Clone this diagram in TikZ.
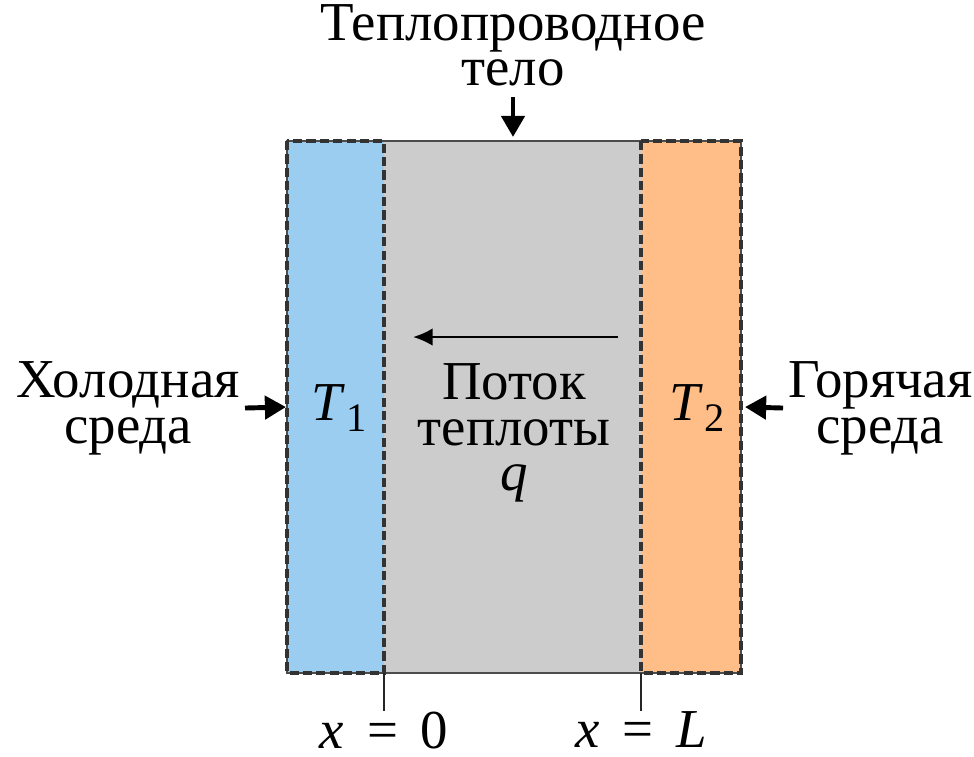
\documentclass[tikz,border=0pt]{standalone}
\usepackage{fontspec}
\setmainfont{Liberation Serif}[Script=Cyrillic]
\usepackage{xcolor}
\usepackage{tikz}
\usetikzlibrary{positioning}
\usetikzlibrary{calc,arrows.meta}

\definecolor{coldblue}{RGB}{155,205,240}
\definecolor{hotorange}{RGB}{255,190,135}
\definecolor{bodygray}{RGB}{204,204,204}

\newcommand{\temp}[1]{\textit{T}\kern0.02em\raisebox{-0.2em}{\fontsize{11.5}{11.5}\selectfont #1}}

\tikzset{
    txt/.style={font=\fontsize{15.6}{13}\selectfont, align=center},
    push/.style={line width=1.4pt, -{Triangle[length=6pt,width=6.5pt]}},
    flux/.style={line width=0.65pt, -{Latex[length=5.6pt,width=5pt]}},
    layer/.style={draw=black!80, line width=0.9pt, dash pattern=on 2.6pt off 1.2pt},
    wall/.style={draw=black!70, line width=0.6pt},
    tick/.style={draw=black!85, line width=0.6pt}
}

\begin{document}
\begin{tikzpicture}[x=0.01cm, y=-0.01cm]
    \useasboundingbox (0,0) rectangle (974,756);

    % Corners of the slab and its layers
    \coordinate (nw) at (287,141);
    \coordinate (se) at (741,673);
    \coordinate (x0) at (384,673);
    \coordinate (hottop) at (641,141);
    \coordinate (xl) at (641,673);

    % Draw body and boundary layers
    \fill[bodygray] (nw) rectangle (se);
    \fill[coldblue] (nw) rectangle (x0);
    \fill[hotorange] (hottop) rectangle (se);
    \draw[wall] (nw) rectangle (se);
    \draw[layer] (nw) rectangle (x0);
    \draw[layer] (hottop) rectangle (se);

    % Temperatures and heat flux
    \node[txt] (tcold) at (339,408) {\temp{1}};
    \node[txt] (thot) at (697,408) {\temp{2}};
    \node[txt] (heat) at (514,433) {Поток\\теплоты\\\textit{q}};
    \coordinate (qtail) at (618,337);
    \coordinate (qhead) at (413,337);
    \draw[flux] (qtail) -- (qhead);

    % Top label
    \coordinate (topin) at (513,137);
    \node[txt, anchor=south, inner sep=0pt, outer sep=3pt] (body) at (513,97) {Теплопроводное\\тело};
    \draw[push] (body.south) -- (topin);

    % Surrounding media
    \coordinate (coldin) at (286,407);
    \coordinate (hotin) at (745,407);
    \node[txt, anchor=east, inner sep=0pt, outer sep=1.5pt] (cold) at (245,408) {Холодная\\среда};
    \node[txt, anchor=west, inner sep=0pt, outer sep=1.5pt] (hot) at (783,408) {Горячая\\среда};
    \draw[push] (cold.east) -- (coldin);
    \draw[push] (hot.west) -- (hotin);

    % Boundaries x = 0 and x = L
    \node[txt, anchor=north, inner sep=0pt] (xzero) at (384,711) {\textit{x}\, = \,0};
    \node[txt, anchor=north, inner sep=0pt] (xend) at (641,711) {\textit{x}\, = \,\textit{L}};
    \draw[tick] (x0) -- (xzero.north);
    \draw[tick] (xl) -- (xend.north);
\end{tikzpicture}
\end{document}
